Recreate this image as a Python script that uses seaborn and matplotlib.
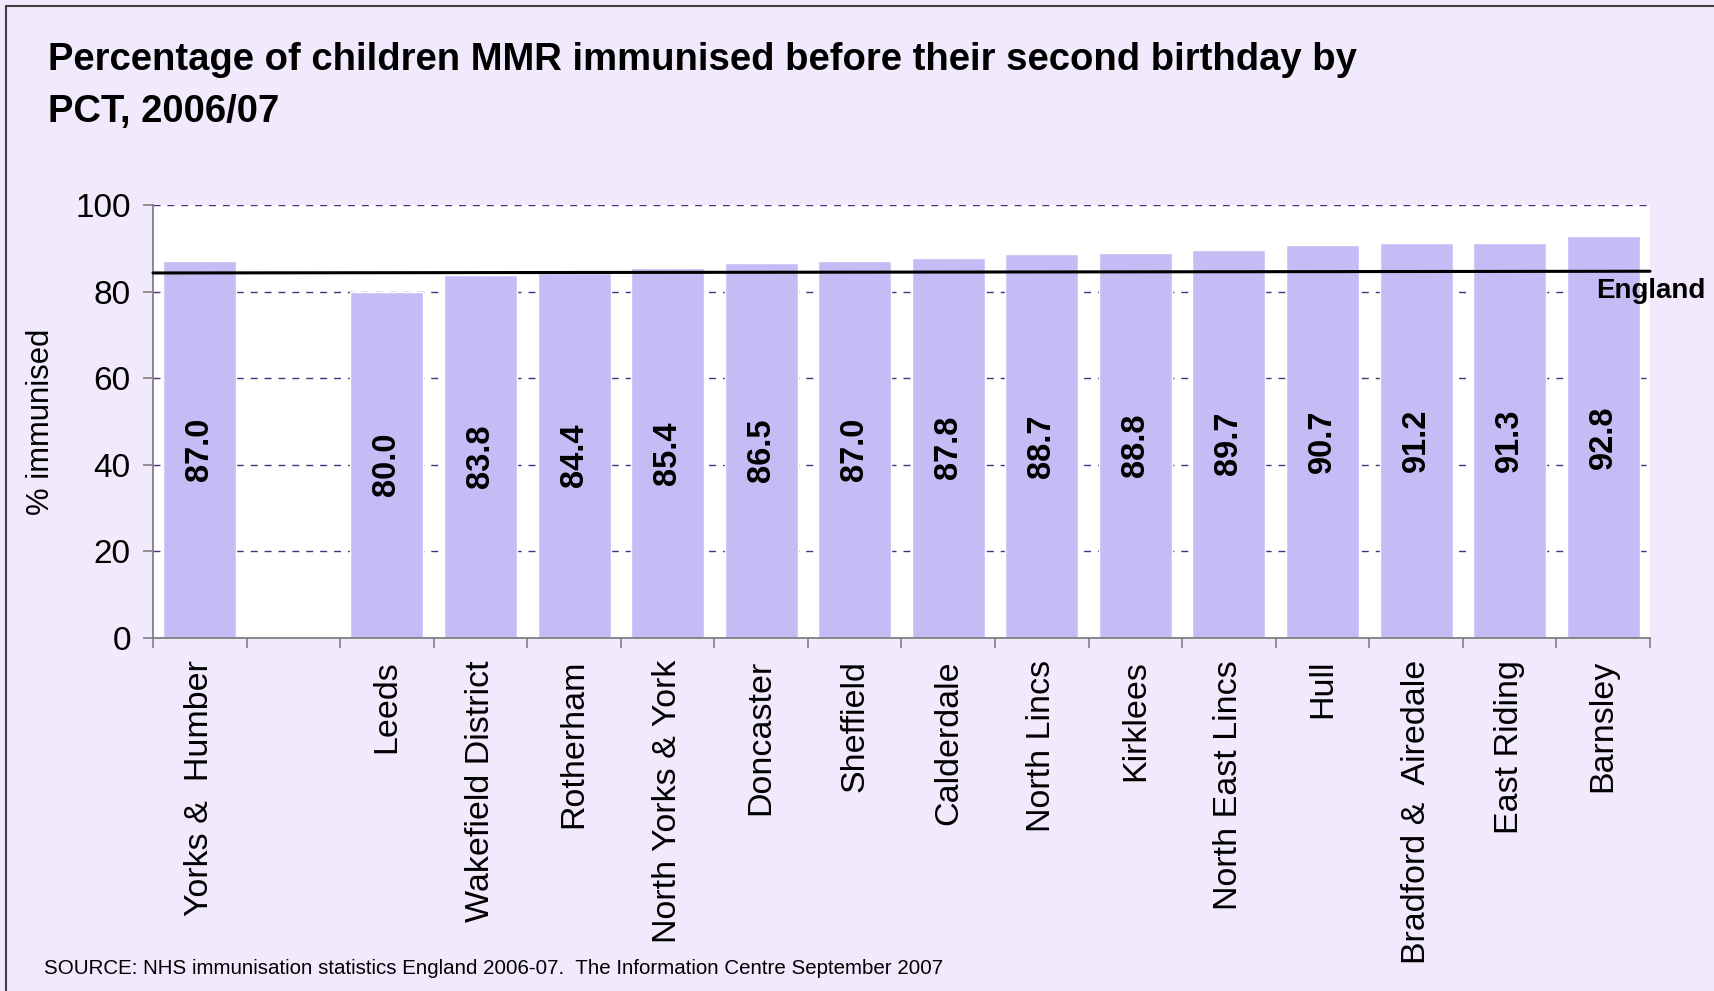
import numpy as np
import pandas as pd
import matplotlib
matplotlib.use("Agg")
import matplotlib.pyplot as plt
import matplotlib.transforms as mtransforms
import seaborn as sns

# data
areas = ["Yorks &  Humber", " ", "Leeds", "Wakefield District", "Rotherham",
         "North Yorks & York", "Doncaster", "Sheffield", "Calderdale",
         "North Lincs", "Kirklees", "North East Lincs", "Hull",
         "Bradford &  Airedale", "East Riding", "Barnsley"]
pct = [87.0, np.nan, 80.0, 83.8, 84.4, 85.4, 86.5, 87.0, 87.8,
       88.7, 88.8, 89.7, 90.7, 91.2, 91.3, 92.8]
england_ends = [84.3, 84.7]  # England average line, left end / right end
y_ticks = [0, 20, 40, 60, 80, 100]

bg = "#F1EAFD"
bar_col = "#C6BCF5"
grid_col = "#4B3080"

sns.set_theme(style="white")
plt.rcParams['font.family'] = ['Liberation Sans', 'DejaVu Sans']
plt.rcParams['text.color'] = 'black'
plt.rcParams['axes.labelcolor'] = 'black'
plt.rcParams['xtick.color'] = 'black'
plt.rcParams['ytick.color'] = 'black'

df = pd.DataFrame({"area": areas, "pct": pct})

fig = plt.figure(figsize=(17.15, 9.91), dpi=100, facecolor=bg)
ax = fig.add_axes([0.0892, 0.3565, 0.9621 - 0.0892, 0.7931 - 0.3565])
ax.set_facecolor("white")

sns.barplot(data=df, x="area", y="pct", order=areas, color=bar_col,
            saturation=1, width=0.78, ax=ax, zorder=2)

# value labels inside bars
cont = ax.containers[0]
labs = ["" if np.isnan(b.get_height()) else f"{b.get_height():.1f}" for b in cont]
ax.bar_label(cont, labels=labs, label_type="center", rotation=90,
             fontsize=23.5, fontweight="bold", color="black")

# England line
ax.plot([-0.5, len(areas) - 0.5], england_ends, color="black", lw=2.2,
        zorder=4, clip_on=False)
tr = mtransforms.blended_transform_factory(ax.transAxes, ax.transData)
ax.text(0.964, 80.2, "England", transform=tr, ha="left", va="center",
        fontsize=20, fontweight="bold", color="black", clip_on=False)

ax.set_xlim(-0.5, len(areas) - 0.5)
ax.set_ylim(0, 100)
ax.set_yticks(y_ticks)
ax.yaxis.grid(True, linestyle=(0, (5, 5)), color=grid_col, lw=1.0, zorder=0)
ax.set_axisbelow(True)

for s in ["top", "right"]:
    ax.spines[s].set_visible(False)
for s in ["left", "bottom"]:
    ax.spines[s].set_color("#7F7F7F")
    ax.spines[s].set_linewidth(1.3)

ax.tick_params(axis="y", which="major", direction="out", length=7,
               width=1.2, color="#7F7F7F", labelcolor="black", pad=9,
               labelsize=24, left=True)
ax.set_xticks(np.arange(len(areas)))
ax.set_xticklabels(areas, rotation=90, va="top", ha="center")
ax.set_xticks(np.arange(-0.5, len(areas)), minor=True)
ax.tick_params(axis="x", which="major", length=0, pad=16, labelsize=24.5,
               labelcolor="black")
ax.tick_params(axis="x", which="minor", direction="out", length=7,
               width=1.2, color="#7F7F7F", bottom=True)

ax.set_xlabel("")
ax.set_ylabel("% immunised", fontsize=22.3, color="black")
ax.yaxis.set_label_coords(-0.065, 0.5)

fig.text(0.028, 1 - 42 / 991,
         "Percentage of children MMR immunised before their second birthday by\nPCT, 2006/07",
         ha="left", va="top", fontsize=27.5, fontweight="bold", linespacing=1.56,
         color="black")
fig.text(44 / 1715, 1 - 969 / 991,
         "SOURCE: NHS immunisation statistics England 2006-07.  The Information Centre September 2007",
         ha="left", va="center", fontsize=14.8, color="black")

# outer frame: top and left edges only
fig.add_artist(plt.Line2D([6 / 1715, 6 / 1715], [0, 1 - 6 / 991],
                          transform=fig.transFigure, color="#404040", lw=1.5))
fig.add_artist(plt.Line2D([6 / 1715, 1], [1 - 6 / 991, 1 - 6 / 991],
                          transform=fig.transFigure, color="#404040", lw=1.5))

fig.savefig("out.png", dpi=100, facecolor=bg)
